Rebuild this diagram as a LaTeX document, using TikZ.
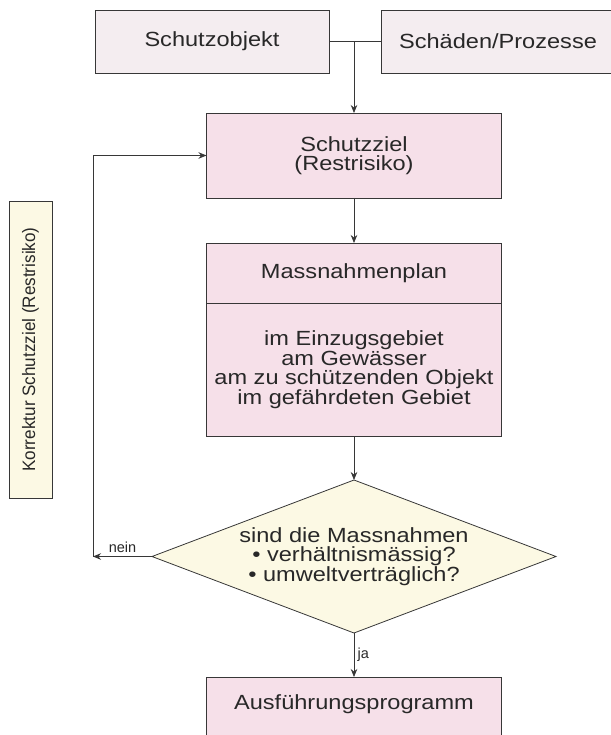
\documentclass[tikz,border=0pt]{standalone}
\usepackage{fontspec}
\setmainfont{Liberation Sans}[FakeStretch=1.15]
\newfontfamily\korrfont{Liberation Sans}[FakeStretch=0.95]
\newfontfamily\plainsans{Liberation Sans}
\usetikzlibrary{arrows.meta}
\usetikzlibrary{shapes.geometric, positioning}
\definecolor{boxpink}{RGB}{246,224,233}
\definecolor{toppink}{RGB}{244,237,240}
\definecolor{paleyellow}{RGB}{252,249,228}
\definecolor{edgegray}{RGB}{55,55,55}
\definecolor{inkgray}{RGB}{40,40,40}
\newcommand{\boxfont}{\fontsize{20.5}{19.5}\selectfont}
\newcommand{\labelfont}{\plainsans\fontsize{14.5}{16}\selectfont}
\tikzset{
    topbox/.style={draw=edgegray, line width=0.8pt, fill=toppink, minimum width=234pt, minimum height=63pt, inner sep=0pt, outer sep=0pt, font=\boxfont, text=inkgray},
    mainbox/.style={draw=edgegray, line width=0.8pt, fill=boxpink, minimum width=295pt, inner sep=0pt, outer sep=0pt, align=center, font=\boxfont, text=inkgray},
    decision/.style={diamond, aspect=2.64, draw=edgegray, line width=0.8pt, fill=paleyellow, minimum width=404pt, minimum height=153pt, inner sep=0pt, outer sep=0pt, align=center, font=\boxfont, text=inkgray},
    notebox/.style={draw=edgegray, line width=0.8pt, fill=paleyellow, minimum width=297pt, minimum height=43pt, inner sep=0pt, outer sep=0pt, font={\korrfont\fontsize{18}{20}\selectfont}, text=inkgray},
    flow/.style={->, line width=0.8pt, draw=edgegray},
}

\begin{document}
\begin{tikzpicture}[x=1pt, y=-1pt, >={Stealth[length=8pt,width=6.5pt]}]
    \useasboundingbox (0,0) rectangle (610,735);

    % Top row
    \node[topbox] (schutz) at (212,41.5) {Schutzobjekt};
    \node[topbox] (schaden) at (498,41.5) {Schäden/Prozesse};

    % Protection goal
    \node[mainbox, minimum height=85pt] (ziel) at (354,155.5) {Schutzziel\\(Restrisiko)};

    % Plan of measures
    \node[mainbox, minimum height=60pt, below=45pt of ziel] (plan) {Massnahmenplan};
    \node[mainbox, minimum height=133pt, below=0pt of plan] (orte) {im Einzugsgebiet\\am Gewässer\\am zu schützenden Objekt\\im gefährdeten Gebiet};

    % Decision
    \node[decision, below=44pt of orte] (pruef) {sind die Massnahmen\\• verhältnismässig?\\• umweltverträglich?};

    % Execution
    \node[mainbox, text height=32pt, text depth=31pt, below=44pt of pruef] (ausf) {Ausführungsprogramm};

    % Correction note
    \node[notebox, rotate=90] (korr) at (30.5,349.5) {Korrektur Schutzziel (Restrisiko)};

    % Connections
    \draw[line width=0.8pt, draw=edgegray] (schutz) -- (schaden);
    \coordinate (junc) at (ziel.north |- schutz.east);
    \draw[flow] (junc) -- (ziel);
    \draw[flow] (ziel) -- (plan);
    \draw[flow] (orte) -- (pruef);
    \draw[flow] (pruef) -- node[right, font=\labelfont, text=inkgray] {ja} (ausf);

    % Feedback loop
    \coordinate (back) at ([xshift=-59pt]pruef.west);
    \draw[flow] (pruef.west) -- node[above, font=\labelfont, text=inkgray] {nein} (back);
    \draw[flow] (back) |- (ziel.west);
\end{tikzpicture}
\end{document}
